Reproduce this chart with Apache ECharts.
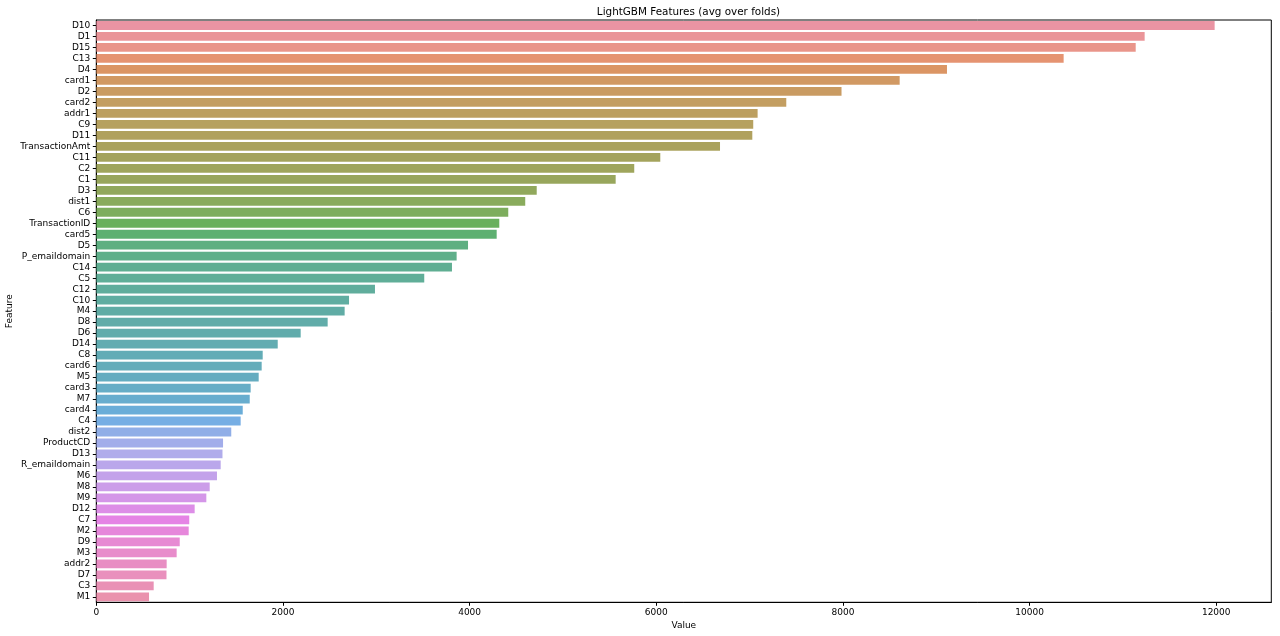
<!DOCTYPE html>
<html>
<head>
<meta charset="utf-8">
<script src="https://cdn.jsdelivr.net/npm/echarts@6/dist/echarts.min.js"></script>
<style>
html,body{margin:0;padding:0;background:#fff;}
#chart{width:1280px;height:636px;}
</style>
</head>
<body>
<div id="chart"></div>
<script>
const features = ["D10","D1","D15","C13","D4","card1","D2","card2","addr1","C9","D11","TransactionAmt","C11","C2","C1","D3","dist1","C6","TransactionID","card5","D5","P_emaildomain","C14","C5","C12","C10","M4","D8","D6","D14","C8","card6","M5","card3","M7","card4","C4","dist2","ProductCD","D13","R_emaildomain","M6","M8","M9","D12","C7","M2","D9","M3","addr2","D7","C3","M1"];
const values = [11983,11233,11137,10365,9115,8608,7985,7393,7086,7039,7029,6683,6043,5764,5565,4719,4596,4414,4318,4290,3983,3861,3811,3514,2986,2708,2661,2479,2190,1944,1783,1772,1740,1654,1644,1569,1547,1446,1358,1352,1333,1293,1215,1179,1054,996,990,894,861,754,752,615,565];
const xTicks = [0,2000,4000,6000,8000,10000,12000];

// seaborn-style husl palette, desaturated 0.75
const M = [[3.2406,-1.5372,-0.4986],[-0.9689,1.8758,0.0415],[0.0557,-0.2040,1.0570]];
const refU = 0.19784, refV = 0.46834, labE = 0.008856, labK = 903.3;
function maxChroma(L,H){
  const hr = H*Math.PI/180, sinH = Math.sin(hr), cosH = Math.cos(hr);
  const sub1 = Math.pow(L+16,3)/1560896;
  const sub2 = sub1 > labE ? sub1 : L/labK;
  let res = Infinity;
  for (const [m1,m2,m3] of M){
    const top = (0.99915*m1 + 1.05122*m2 + 1.14460*m3)*sub2;
    const rb = 0.86330*m3 - 0.17266*m2;
    const lb = 0.12949*m3 - 0.38848*m1;
    const bottom = (rb*sinH + lb*cosH)*sub2;
    for (const t of [0,1]){
      const C = L*(top - 1.05122*t)/(bottom + 0.17266*sinH*t);
      if (C > 0 && C < res) res = C;
    }
  }
  return res;
}
function fInv(t){ return Math.pow(t,3) > labE ? Math.pow(t,3) : (116*t-16)/labK; }
function fromLin(c){ return c <= 0.0031308 ? 12.92*c : 1.055*Math.pow(c,1/2.4)-0.055; }
function husl(H,S,L){
  const C = maxChroma(L,H)/100*S;
  const hr = H*Math.PI/180;
  const U = Math.cos(hr)*C, V = Math.sin(hr)*C;
  const Y = fInv((L+16)/116);
  const vu = U/(13*L)+refU, vv = V/(13*L)+refV;
  const X = -(9*Y*vu)/((vu-4)*vv - vu*vv);
  const Z = (9*Y - 15*vv*Y - vv*X)/(3*vv);
  return M.map(r => Math.min(1, Math.max(0, fromLin(r[0]*X + r[1]*Y + r[2]*Z))));
}
function desat(rgb,p){
  const mx = Math.max(...rgb), mn = Math.min(...rgb), l = (mx+mn)/2;
  return rgb.map(c => l + p*(c-l));
}
function toHex(rgb){ return '#' + rgb.map(c => Math.round(c*255).toString(16).padStart(2,'0')).join(''); }
const n = features.length;
const colors = features.map((_,i) => {
  let h = (i/n + 0.01) % 1;
  return toHex(desat(husl(h*359, 0.9*99, 0.65*99), 0.75));
});

const chart = echarts.init(document.getElementById('chart'), null, {renderer:'canvas'});
const font = 'DejaVu Sans';
chart.setOption({
  animation: false,
  backgroundColor: '#ffffff',
  title: {
    text: 'LightGBM Features (avg over folds)',
    left: 683.5, top: 2, textAlign: 'center',
    textStyle: {fontFamily: font, fontSize: 10.4, fontWeight: 'normal', color: '#000'}
  },
  grid: {left: 96.3, right: 8.7, top: 20, bottom: 33.7, show: true, borderColor: '#000', borderWidth: 1,
    backgroundColor: 'transparent', outerBoundsMode: 'none', containLabel: false},
  xAxis: {
    type: 'value', min: 0, max: 12590, interval: 2000,
    name: 'Value', nameLocation: 'middle', nameGap: 19, nameMoveOverlap: false,
    nameTextStyle: {fontFamily: font, fontSize: 9, color: '#000'},
    axisLine: {show: true, lineStyle: {color: '#000', width: 1}},
    axisTick: {show: true, length: 3.5, lineStyle: {color: '#000'}},
    axisLabel: {fontFamily: font, fontSize: 9, color: '#000', margin: 6, showMaxLabel: false,
      formatter: v => xTicks.includes(v) ? String(v) : ''},
    splitLine: {show: false}
  },
  yAxis: {
    type: 'category', data: features, inverse: true,
    name: 'Feature', nameLocation: 'middle', nameGap: 82, nameRotate: 90, nameMoveOverlap: false,
    nameTextStyle: {fontFamily: font, fontSize: 9, color: '#000'},
    axisLine: {show: true, lineStyle: {color: '#000', width: 1}},
    axisTick: {show: true, alignWithLabel: true, length: 3.5, lineStyle: {color: '#000'}},
    axisLabel: {fontFamily: font, fontSize: 9, color: '#000', margin: 6, interval: 0},
    splitLine: {show: false}
  },
  series: [{
    type: 'bar',
    data: values.map((v,i) => ({value: v, itemStyle: {color: colors[i], opacity: 0.85}})),
    barCategoryGap: '20%'
  }]
});
</script>
</body>
</html>
